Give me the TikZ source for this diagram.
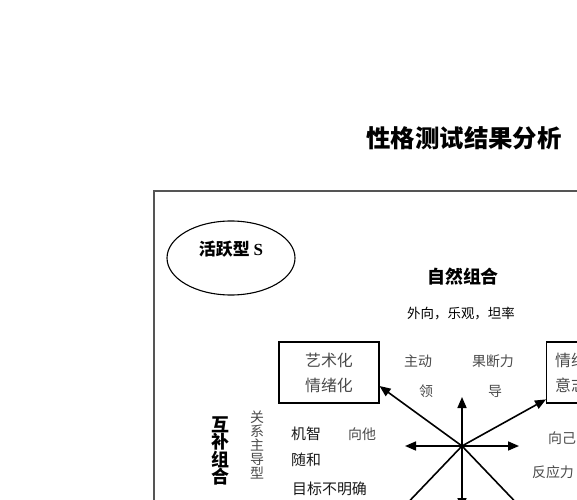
\documentclass[tikz,border=0pt]{standalone}
\usepackage{fontspec}
\setmainfont{Liberation Serif}
\newfontfamily\cjk{Noto Sans CJK SC}
\usetikzlibrary{arrows.meta,shapes.geometric}
\definecolor{framegray}{HTML}{555555}
\definecolor{txtgray}{HTML}{4A4A4A}
\tikzset{
  arr/.style={line width=1.6bp,-{Triangle[length=11bp,width=9bp]}},
  ln/.style={line width=1.6bp},
  boxed/.style={draw,line width=1.1bp,minimum width=100bp,minimum height=61bp,inner sep=0pt,align=center},
  graytxt/.style={text=txtgray,font=\cjk\fontsize{14}{16}\selectfont,inner sep=0pt},
  blacktxt/.style={text=black!90,font=\cjk\fontsize{15}{17}\selectfont,inner sep=0pt},
  boldtxt/.style={font=\cjk\bfseries\fontsize{18}{20}\selectfont,inner sep=0pt},
  boxtxt/.style={text=txtgray,font=\cjk\fontsize{16}{18}\selectfont,inner sep=0pt},
}
\begin{document}
\begin{tikzpicture}[x=1bp,y=-1bp]
\useasboundingbox (0,0) rectangle (577,500);
% title
\node[font=\cjk\bfseries\fontsize{24.5}{27}\selectfont,inner sep=0pt] (title) at (464,138) {性格测试结果分析};
% outer frame
\draw[framegray,line width=1.4bp] (154,620) -- (154,191) -- (700,191);
% ellipse
\node[draw,ellipse,line width=1.1bp,minimum width=128bp,minimum height=74bp] (sell) at (231,258) {};
\node[font=\cjk\bfseries\fontsize{17}{19}\selectfont,inner sep=0pt] (stxt) at (231,249) {活跃型 {\rmfamily\bfseries S}};
% natural combination
\node[boldtxt] (nat) at (463,277) {自然组合};
\node[font=\cjk\fontsize{13.5}{16}\selectfont,inner sep=0pt] (natd) at (461,314) {外向，乐观，坦率};
% boxes
\node[boxed,text=txtgray,font=\cjk\fontsize{16}{25}\selectfont] (bl) at (329,372.5) {艺术化\\情绪化};
\node[boxed,anchor=west] (br) at (546,372.5) {};
\node[boxtxt,anchor=west] (brt1) at (555,360) {情绪};
\node[boxtxt,anchor=west] (brt2) at (555,385) {意志};
% labels around top
\node[graytxt] (zd) at (418,361) {主动};
\node[graytxt] (ling) at (426,391) {领};
\node[graytxt] (gdl) at (493,361) {果断力};
\node[graytxt] (dao) at (495,391) {导};
\node[graytxt] (xj) at (562,438) {向己};
\node[graytxt] (fyl) at (553,472) {反应力};
% left side
\node[boldtxt,align=center,font=\cjk\bfseries\fontsize{18}{17.5}\selectfont] (hb) at (220,451) {互\\补\\组\\合};
\node[graytxt,align=center,font=\cjk\fontsize{14}{14}\selectfont] (gx) at (257,445) {关\\系\\主\\导\\型};
\node[blacktxt] (jz) at (306,434) {机智};
\node[graytxt] (xt) at (362,434) {向他};
\node[blacktxt] (sh) at (306,460) {随和};
\node[blacktxt,anchor=west] (mb) at (292,489) {目标不明确};
% star of arrows
\coordinate (c) at (462,446);
\coordinate (up) at (462,397);
\coordinate (dn) at (462,509);
\coordinate (lf) at (405,446);
\coordinate (rt) at (519,446);
\coordinate (ll) at (398,513);
\coordinate (lr) at (526,513);
\draw[arr] (c) -- (up);
\draw[arr] (c) -- (dn);
\draw[arr] (c) -- (lf);
\draw[arr] (c) -- (rt);
\draw[arr] (c) -- (bl.-15);
\draw[arr] (c) -- (br.208);
\draw[ln] (c) -- (ll);
\draw[ln] (c) -- (lr);
\end{tikzpicture}
\end{document}
